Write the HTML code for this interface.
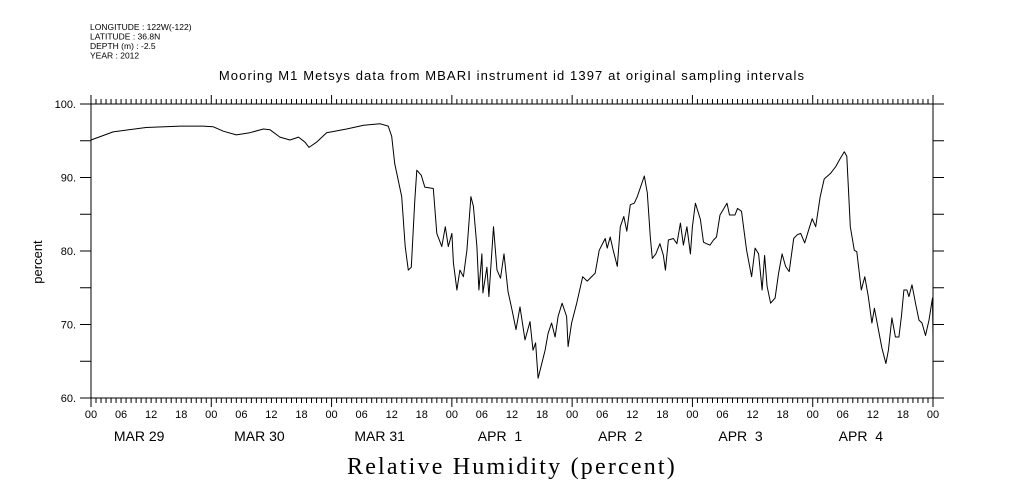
<!DOCTYPE html>
<html><head><meta charset="utf-8"><style>
body{margin:0;background:#fff;}
svg{display:block;}
text{font-family:"Liberation Sans",sans-serif;fill:#000;}
</style></head><body>
<svg id="chart" width="1009" height="504" viewBox="0 0 1009 504" xmlns="http://www.w3.org/2000/svg">
<g font-size="8.5">
<text x="90" y="30">LONGITUDE : 122W(-122)</text>
<text x="90" y="39.5">LATITUDE : 36.8N</text>
<text x="90" y="49">DEPTH (m) : -2.5</text>
<text x="90" y="58.5">YEAR : 2012</text>
</g>
<text x="512" y="80" font-size="13" letter-spacing="1.1" text-anchor="middle">Mooring M1 Metsys data from MBARI instrument id 1397 at original sampling intervals</text>
<text x="0" y="0" font-size="13" text-anchor="middle" transform="translate(42,262) rotate(-90)">percent</text>
<text x="512" y="474" font-size="24" letter-spacing="2.2" text-anchor="middle" style="font-family:'Liberation Serif',serif">Relative Humidity (percent)</text>
<g id="axes"></g>
<g id="series"></g>
</svg>
<script>
const hours=[0,4.4,11,17.8,22.3,24.4,26.4,29,31.7,34.4,35.7,37.7,39.7,41.4,42.7,43.5,45,47,51,54.4,57.7,59.3,60,60.6,62,62.7,63.3,63.9,64.6,65,65.9,66.6,68.3,69,70,70.7,71.3,72,72.3,73,73.6,74.3,75,75.8,76.3,77,77.4,78,78.2,79,79.4,80.3,81,81.7,82.4,83.2,84,84.8,85.6,86.6,87.6,88.2,88.7,89.2,89.9,90.6,91.2,91.9,92.6,93.2,94,94.9,95.2,95.9,96.9,98.1,99,100.6,101.4,102.6,103,103.6,104.2,105,105.6,106.3,106.9,107.6,108.4,109,109.7,110.4,111,111.6,112,112.7,113.5,114.2,114.6,115.2,116.2,116.9,117.6,118.2,118.9,119.6,120,120.6,121.6,122.2,122.8,123.5,124.2,124.8,125.5,126.9,127.4,128.5,129,129.8,130.8,131.8,132.5,133.2,133.9,134.4,134.9,135.6,136.5,137.2,137.9,138.6,139.3,140.2,140.9,141.6,142.4,143.3,143.9,144.6,145.5,146.3,147.6,148.6,149.5,150.3,150.8,151.1,151.5,152.3,152.8,153.7,154.4,155.1,155.8,156.3,157.1,157.8,158.6,159.1,159.8,160.5,161.2,161.7,162.2,162.8,163.2,163.8,164.5,165.2,165.8,166.5,167.2,167.9,168];
const values=[95.1,96.2,96.8,97.0,97.0,96.9,96.3,95.8,96.1,96.6,96.5,95.5,95.1,95.5,94.8,94.1,94.8,96.1,96.6,97.1,97.3,97.0,95.6,91.9,87.4,80.6,77.4,77.8,86.9,91.0,90.3,88.7,88.5,82.4,80.6,83.3,80.6,82.4,78.4,74.7,77.4,76.5,80.1,87.4,86.1,80.6,74.7,79.6,74.3,77.8,73.8,83.3,77.4,76.3,79.6,74.5,72.0,69.3,72.4,67.9,70.4,66.5,67.5,62.7,64.6,66.5,68.8,70.2,68.3,71.1,72.9,71.1,67.0,70.2,72.9,76.5,75.9,77.0,80.1,81.7,80.4,81.9,80.1,77.9,83.3,84.7,82.7,86.3,86.5,87.4,88.8,90.2,87.9,81.9,79.0,79.6,81.0,79.4,77.4,81.5,81.7,81.0,83.8,80.8,83.3,79.6,83.3,86.5,84.3,81.2,81.0,80.8,81.5,81.9,84.9,86.5,84.9,84.9,85.8,85.4,80.1,76.5,80.4,79.6,74.7,79.4,75.2,72.9,73.6,77.0,79.6,77.9,77.2,81.7,82.2,82.4,81.1,83.1,84.4,83.3,87.4,89.8,90.6,91.5,92.6,93.5,92.9,88.8,83.3,80.1,79.9,74.7,76.5,73.8,70.2,72.2,69.3,66.8,64.7,66.5,70.9,68.3,68.3,71.1,74.7,74.7,73.8,75.4,72.9,70.6,70.2,68.5,70.6,73.6,68.3];
const yTicks=[60,70,80,90,100];
const hourLabels=["00","06","12","18"];
const dayLabels=["MAR 29","MAR 30","MAR 31","APR  1","APR  2","APR  3","APR  4"];

const L=91,R=933,T=104,B=398,H0=0,H1=168,V0=60,V1=100;
const xs=h=>L+(h-H0)/(H1-H0)*(R-L);
const ys=v=>B-(v-V0)/(V1-V0)*(B-T);
const NS="http://www.w3.org/2000/svg";
function mk(tag,attrs,parent){const e=document.createElementNS(NS,tag);for(const k in attrs)e.setAttribute(k,attrs[k]);parent.appendChild(e);return e;}
const ax=document.getElementById('axes');
const fr=mk('rect',{x:L,y:T,width:R-L,height:B-T,fill:'none',stroke:'#000','stroke-width':1},ax);


for(let h=H0;h<=H1;h++){
  const x=xs(h), major=h%24===0, len=major?9:5;
  const t1=mk('line',{x1:x,x2:x,y1:T,y2:T-len,stroke:'#000','stroke-width':1},ax);
  
  
  const t2=mk('line',{x1:x,x2:x,y1:B,y2:B+len,stroke:'#000','stroke-width':1},ax);
  
  
  if(h%6===0){
    const tl=mk('text',{x:x,y:418,'font-size':11,'text-anchor':'middle'},ax);
    tl.textContent=hourLabels[(h/6)%4];
    
    
  }
}
dayLabels.forEach((d,i)=>{
  const t=mk('text',{x:xs(i*24+9.6),y:441,'font-size':14,'text-anchor':'middle'},ax);
  t.style.whiteSpace='pre';
  t.textContent=d;
  
  
});
for(let v=V0;v<=V1;v+=5){
  const y=ys(v);
  const a=mk('line',{x1:L,x2:L-11,y1:y,y2:y,stroke:'#000','stroke-width':1},ax);
  
  
  const b=mk('line',{x1:R,x2:R+11,y1:y,y2:y,stroke:'#000','stroke-width':1},ax);
  
  
}
yTicks.forEach(v=>{
  const t=mk('text',{x:76,y:ys(v)+4,'font-size':11,'text-anchor':'end'},ax);
  t.textContent=v+'.';
  
  
});
const pts=hours.map((h,i)=>xs(h).toFixed(1)+','+ys(values[i]).toFixed(1)).join(' ');
const ln=mk('polyline',{points:pts,fill:'none',stroke:'#000','stroke-width':1,'stroke-linejoin':'round'},document.getElementById('series'));


</script>
</body></html>
